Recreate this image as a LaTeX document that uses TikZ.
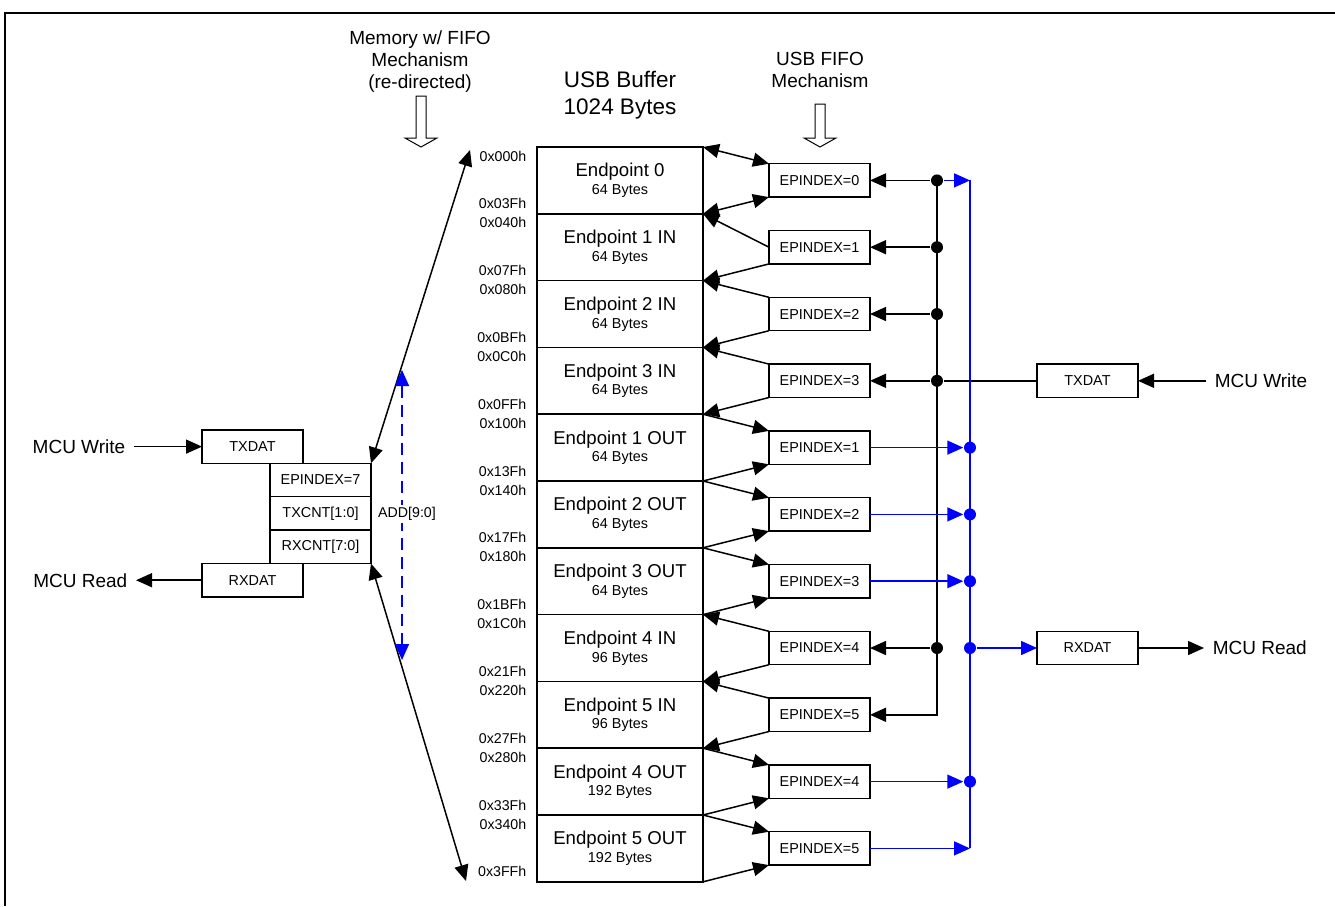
\documentclass[tikz,border=0pt]{standalone}
\usepackage{fontspec}
\setmainfont{Liberation Sans}
\usepackage{tikz}
\usetikzlibrary{positioning,arrows.meta}

\newcommand{\bytesize}[1]{{\fontsize{14.4}{16}\selectfont #1}}

\tikzset{
  ep/.style={draw, rectangle, minimum width=166pt, minimum height=66.8pt,
    inner sep=0pt, outer sep=0pt, align=center, font=\fontsize{18.6}{17.5}\selectfont},
  box/.style={draw, rectangle, minimum width=101pt, minimum height=33.4pt,
    inner sep=0pt, outer sep=0pt, font=\fontsize{14.4}{16}\selectfont},
  addr/.style={inner sep=0pt, font=\fontsize{14.2}{16}\selectfont},
  txt/.style={inner sep=8pt, align=center, font=\fontsize{19}{22}\selectfont},
  arr/.style={-{Triangle[length=16pt,width=14pt]}},
  dbl/.style={{Triangle[length=16pt,width=14pt]}-{Triangle[length=16pt,width=14pt]}},
  bus/.style={blue},
  dot/.style={circle, fill=black, inner sep=0pt, minimum size=12pt},
  bluedot/.style={dot, fill=blue},
}

\begin{document}
\begin{tikzpicture}[x=1pt, y=-1pt, line width=1.5pt, node distance=0pt]
    \useasboundingbox (0,0) rectangle (1335,906);
    \draw (5,906) -- (5,13) -- (1335,13);

    % titles
    \node (mem) [txt] at (420,62) {Memory w/ FIFO\\Mechanism\\(re-directed)};
    \node (fifo) [txt] at (820,70) {USB FIFO\\Mechanism};
    \node (buf) [txt, font=\fontsize{22.5}{27}\selectfont] at (620,95) {USB Buffer\\1024 Bytes};
    \draw [line width=1pt] (416,96) -- (426,96) -- (426,138) -- (437,138) -- (421,147)
        -- (405,138) -- (416,138) -- cycle;
    \draw [line width=1pt] (815,104) -- (825,104) -- (825,138) -- (836,138) -- (820,147)
        -- (804,138) -- (815,138) -- cycle;

    % buffer
    \node (r0) [ep] at (620,180.4) {Endpoint 0\\\bytesize{64 Bytes}};
    \node (r1) [ep, below=of r0] {Endpoint 1 IN\\\bytesize{64 Bytes}};
    \node (r2) [ep, below=of r1] {Endpoint 2 IN\\\bytesize{64 Bytes}};
    \node (r3) [ep, below=of r2] {Endpoint 3 IN\\\bytesize{64 Bytes}};
    \node (r4) [ep, below=of r3] {Endpoint 1 OUT\\\bytesize{64 Bytes}};
    \node (r5) [ep, below=of r4] {Endpoint 2 OUT\\\bytesize{64 Bytes}};
    \node (r6) [ep, below=of r5] {Endpoint 3 OUT\\\bytesize{64 Bytes}};
    \node (r7) [ep, below=of r6] {Endpoint 4 IN\\\bytesize{96 Bytes}};
    \node (r8) [ep, below=of r7] {Endpoint 5 IN\\\bytesize{96 Bytes}};
    \node (r9) [ep, below=of r8] {Endpoint 4 OUT\\\bytesize{192 Bytes}};
    \node (r10) [ep, below=of r9] {Endpoint 5 OUT\\\bytesize{192 Bytes}};

    % addresses
    \node (a0s) [addr, below left=3pt and 10pt of r0.north west] {0x000h};
    \node (a0e) [addr, above left=4pt and 10pt of r0.south west] {0x03Fh};
    \node (a1s) [addr, below left=3pt and 10pt of r1.north west] {0x040h};
    \node (a1e) [addr, above left=4pt and 10pt of r1.south west] {0x07Fh};
    \node (a2s) [addr, below left=3pt and 10pt of r2.north west] {0x080h};
    \node (a2e) [addr, above left=4pt and 10pt of r2.south west] {0x0BFh};
    \node (a3s) [addr, below left=3pt and 10pt of r3.north west] {0x0C0h};
    \node (a3e) [addr, above left=4pt and 10pt of r3.south west] {0x0FFh};
    \node (a4s) [addr, below left=3pt and 10pt of r4.north west] {0x100h};
    \node (a4e) [addr, above left=4pt and 10pt of r4.south west] {0x13Fh};
    \node (a5s) [addr, below left=3pt and 10pt of r5.north west] {0x140h};
    \node (a5e) [addr, above left=4pt and 10pt of r5.south west] {0x17Fh};
    \node (a6s) [addr, below left=3pt and 10pt of r6.north west] {0x180h};
    \node (a6e) [addr, above left=4pt and 10pt of r6.south west] {0x1BFh};
    \node (a7s) [addr, below left=3pt and 10pt of r7.north west] {0x1C0h};
    \node (a7e) [addr, above left=4pt and 10pt of r7.south west] {0x21Fh};
    \node (a8s) [addr, below left=3pt and 10pt of r8.north west] {0x220h};
    \node (a8e) [addr, above left=4pt and 10pt of r8.south west] {0x27Fh};
    \node (a9s) [addr, below left=3pt and 10pt of r9.north west] {0x280h};
    \node (a9e) [addr, above left=4pt and 10pt of r9.south west] {0x33Fh};
    \node (a10s) [addr, below left=3pt and 10pt of r10.north west] {0x340h};
    \node (a10e) [addr, above left=4pt and 10pt of r10.south west] {0x3FFh};

    % FIFO index boxes
    \node (e0) [box, right=66pt of r0] {EPINDEX=0};
    \node (e1) [box, right=66pt of r1] {EPINDEX=1};
    \node (e2) [box, right=66pt of r2] {EPINDEX=2};
    \node (e3) [box, right=66pt of r3] {EPINDEX=3};
    \node (e4) [box, right=66pt of r4] {EPINDEX=1};
    \node (e5) [box, right=66pt of r5] {EPINDEX=2};
    \node (e6) [box, right=66pt of r6] {EPINDEX=3};
    \node (e7) [box, right=66pt of r7] {EPINDEX=4};
    \node (e8) [box, right=66pt of r8] {EPINDEX=5};
    \node (e9) [box, right=66pt of r9] {EPINDEX=4};
    \node (e10) [box, right=66pt of r10] {EPINDEX=5};

    \draw [dbl] (r0.north east) -- (e0.north west);
    \draw [dbl] (r0.south east) -- (e0.south west);
    \draw [arr] (e1.west) -- (r1.north east);
    \draw [arr] (e1.south west) -- (r1.south east);
    \draw [arr] (e2.north west) -- (r2.north east);
    \draw [arr] (e2.south west) -- (r2.south east);
    \draw [arr] (e3.north west) -- (r3.north east);
    \draw [arr] (e3.south west) -- (r3.south east);
    \draw [arr] (r4.north east) -- (e4.north west);
    \draw [arr] (r4.south east) -- (e4.south west);
    \draw [arr] (r5.north east) -- (e5.north west);
    \draw [arr] (r5.south east) -- (e5.south west);
    \draw [arr] (r6.north east) -- (e6.north west);
    \draw [arr] (r6.south east) -- (e6.south west);
    \draw [arr] (e7.north west) -- (r7.north east);
    \draw [arr] (e7.south west) -- (r7.south east);
    \draw [arr] (e8.north west) -- (r8.north east);
    \draw [arr] (e8.south west) -- (r8.south east);
    \draw [arr] (r9.north east) -- (e9.north west);
    \draw [arr] (r9.south east) -- (e9.south west);
    \draw [arr] (r10.north east) -- (e10.north west);
    \draw [arr] (r10.south east) -- (e10.south west);

    % write side (black)
    \coordinate (bx) at (937,0);
    \node (d0) [dot] at (e0.east -| bx) {};
    \node (d1) [dot] at (e1.east -| bx) {};
    \node (d2) [dot] at (e2.east -| bx) {};
    \node (d3) [dot] at (e3.east -| bx) {};
    \node (d7) [dot] at (e7.east -| bx) {};
    \draw [arr] (d0.center) -- (d0.center |- e8.east) -- (e8.east);
    \draw [arr] (d0) -- (e0);
    \draw [arr] (d1) -- (e1);
    \draw [arr] (d2) -- (e2);
    \draw [arr] (d3) -- (e3);
    \draw [arr] (d7) -- (e7);

    \node (txr) [box, right=167pt of e3] {TXDAT};
    \node (rxr) [box, right=167pt of e7] {RXDAT};
    \node (mwr) [txt, right=68pt of txr] {MCU Write};
    \node (mrr) [txt, right=66pt of rxr] {MCU Read};
    \draw (txr) -- (d3);
    \draw [arr] (mwr) -- (txr);
    \draw [arr] (rxr) -- (mrr);

    % read side (blue)
    \coordinate (bb) at (970,0);
    \coordinate (b0) at (e0.east -| bb);
    \coordinate (b10) at (e10.east -| bb);
    \node (u4) [bluedot] at (e4.east -| bb) {};
    \node (u5) [bluedot] at (e5.east -| bb) {};
    \node (u6) [bluedot] at (e6.east -| bb) {};
    \node (u7) [bluedot] at (e7.east -| bb) {};
    \node (u9) [bluedot] at (e9.east -| bb) {};
    \draw [bus] (b0) -- (b10);
    \draw [bus, arr] (d0) -- (b0);
    \draw [bus, arr] (e4) -- (u4);
    \draw [bus, arr] (e5) -- (u5);
    \draw [bus, arr] (e6) -- (u6);
    \draw [bus, arr] (e9) -- (u9);
    \draw [bus, arr] (e10) -- (b10);
    \draw [bus, arr] (u7) -- (rxr);

    % MCU side, memory w/ FIFO
    \node (txl) [box] at (252.5,446.6) {TXDAT};
    \node (ep7) [box, below right=0pt and -33pt of txl] {EPINDEX=7};
    \node (tc) [box, below=of ep7] {TXCNT[1:0]};
    \node (rc) [box, below=of tc] {RXCNT[7:0]};
    \node (rxl) [box, below left=0pt and -33pt of rc] {RXDAT};
    \node (mwl) [txt, left=68pt of txl] {MCU Write};
    \node (mrl) [txt, left=66pt of rxl] {MCU Read};
    \draw [arr] (mwl) -- (txl);
    \draw [arr] (rxl) -- (mrl);

    \coordinate (top) at (470,150);
    \coordinate (bot) at (466,881);
    \draw [dbl] (ep7.north east) -- (top);
    \draw [dbl] (rc.south east) -- (bot);

    \coordinate (add0) at (402,370);
    \coordinate (add1) at (402,660);
    \draw [bus, dbl, dash pattern=on 12pt off 7pt] (add0) -- (add1);
    \node (add) [addr, fill=white, inner sep=2pt] at (407,514) {ADD[9:0]};
\end{tikzpicture}
\end{document}
